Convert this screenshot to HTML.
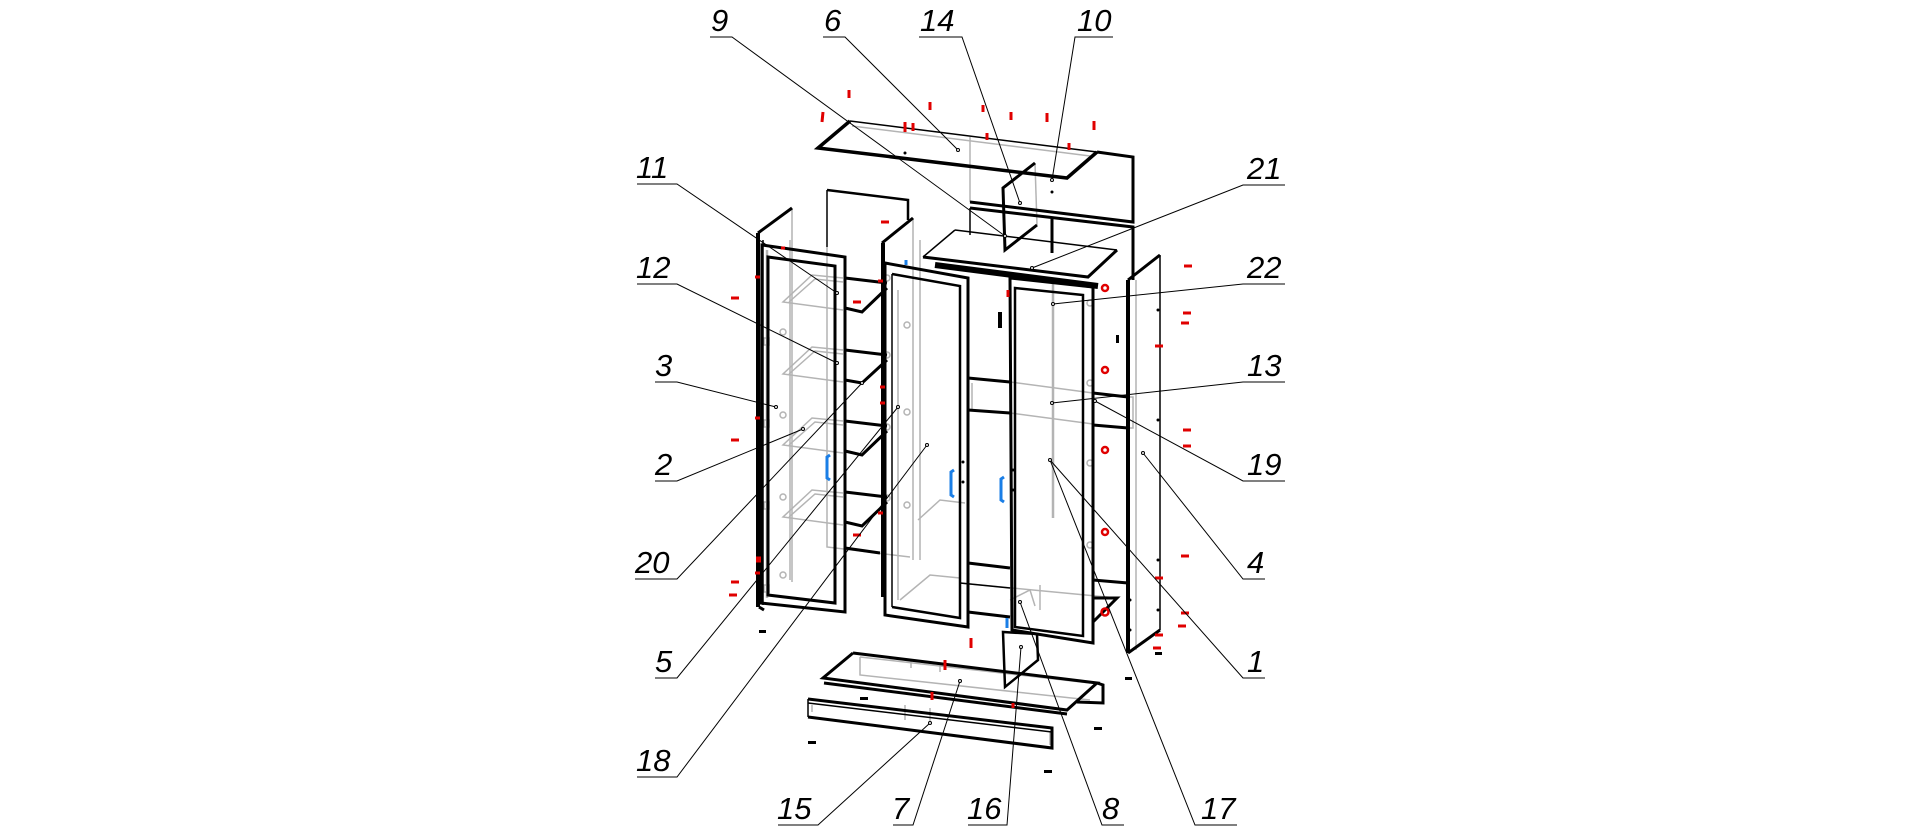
<!DOCTYPE html>
<html><head><meta charset="utf-8"><style>
html,body{margin:0;padding:0;background:#fff;}
body{width:1920px;height:834px;overflow:hidden;position:relative;}
svg{position:absolute;left:0;top:0;}
text{font-family:"Liberation Sans",sans-serif;font-style:italic;font-size:31px;fill:#000;}
</style></head><body>
<svg width="1920" height="834" viewBox="0 0 1920 834" xmlns="http://www.w3.org/2000/svg">
<rect width="1920" height="834" fill="#fff"/>

<!-- ============ GRAY (hidden / inner) LINES ============ -->
<g fill="none" stroke="#b4b4b4" stroke-width="1.5">
  <path d="M852,126 L1090,156"/>
  <path d="M970,137 L970,202"/>
  <path d="M1035,163 L1037,225"/>
  <path d="M792,208 L792,582"/>
  <path d="M767,250 L767,598" stroke-width="2.5"/>
  <path d="M827,247 L827,547 L910,557"/>
  <path d="M790,240 L790,580"/>
  <path d="M843,278 L812,275 L783,302 L843,310"/>
  <path d="M843,282 L815,279 L789,302"/>
  <path d="M843,350 L812,347 L783,374 L843,382"/>
  <path d="M843,354 L815,351 L789,374"/>
  <path d="M843,421 L812,418 L783,445 L843,453"/>
  <path d="M843,425 L815,422 L789,445"/>
  <path d="M843,493 L812,490 L783,517 L843,525"/>
  <path d="M843,497 L815,494 L789,517"/>
  <path d="M913,218 L913,560"/>
  <path d="M920,240 L920,560"/>
  <path d="M898,290 L898,600"/>
  <path d="M918,520 L940,500 L965,503"/>
  <path d="M900,600 L930,575 L960,578"/>
  <path d="M1010,382 L1093,393"/>
  <path d="M1010,413 L1093,424"/>
  <path d="M972,383 L972,410"/>
  <path d="M1128,397 L1133,397 L1133,428 L1128,428"/>
  <path d="M1053,282 L1053,518" stroke-width="2.5"/>
  <path d="M1136,280 L1136,650"/>
  <path d="M960,583 L1117,598"/>
  <path d="M1010,600 L1030,590 L1035,606"/>
  <path d="M1040,585 L1040,610"/>
  <path d="M860,657 L860,675 L1090,700"/>
  <path d="M860,657 L1090,683"/>
  <path d="M905,705 L905,720 M930,708 L930,722 M911,660 L911,668 M940,664 L940,672"/>
  <path d="M812,705 L812,712"/>
  <path d="M1050,732 L1050,745"/>
  <circle cx="1090" cy="303" r="3"/>
  <circle cx="1090" cy="383" r="3"/>
  <circle cx="1090" cy="463" r="3"/>
  <circle cx="1090" cy="545" r="3"/>
  <rect x="764" y="338" width="5" height="7"/>
  <rect x="764" y="420" width="5" height="7"/>
  <rect x="764" y="502" width="5" height="7"/>
  <rect x="764" y="585" width="5" height="7"/>
  <circle cx="783" cy="332" r="3"/>
  <circle cx="783" cy="415" r="3"/>
  <circle cx="783" cy="497" r="3"/>
  <circle cx="783" cy="575" r="3"/>
  <circle cx="907" cy="325" r="3"/>
  <circle cx="907" cy="412" r="3"/>
  <circle cx="907" cy="505" r="3"/>
  <circle cx="887" cy="278" r="3"/>
  <circle cx="887" cy="355" r="3"/>
  <circle cx="887" cy="427" r="3"/>
  <circle cx="887" cy="498" r="3"/>
</g>

<!-- ============ BLACK THIN ============ -->
<g fill="none" stroke="#000" stroke-width="1.5">
  <path d="M850,121 L1097,152"/>
  <path d="M955,230 L1117,250"/>
  <path d="M923,257 L955,230"/>
  <path d="M827,190 L827,247"/>
  <path d="M1160,255 L1160,630"/>
  <path d="M763,240 L763,605"/>
  <path d="M892,274 L892,607"/>
  <path d="M970,208 L970,235"/>
  <path d="M960,583 L1010,588"/>
  <path d="M808,699 L808,717"/>
</g>

<!-- ============ BLACK THICK ============ -->
<g fill="none" stroke="#000" stroke-width="3" stroke-linejoin="miter">
  <path d="M850,121 L818,148 L1067,178 L1097,152" stroke-width="3.5"/>
  <path d="M1097,152 L1133,157 L1133,222 L970,202"/>
  <path d="M1035,163 L1003,188 L1005,250 L1037,225"/>
  <path d="M970,208 L1133,227 L1133,280"/>
  <path d="M1052,217 L1052,253"/>
  <path d="M923,257 L1088,277 L1117,250"/>
  <path d="M935,265 L1098,286" stroke-width="6"/>
  <path d="M827,190 L908,200 L908,220" stroke-width="2.5"/>
  <path d="M758,233 L758,607" stroke-width="4"/>
  <path d="M758,233 L792,208"/>
  <path d="M759,607 L764,610"/>
  <path d="M762,245 L845,257 L845,612 L761,603 Z"/>
  <path d="M768,257 L835,266 L835,603 L768,595 Z"/>
  <path d="M845,278 L887,283"/>
  <path d="M845,308 L862,312 L887,288"/>
  <path d="M845,350 L887,355"/>
  <path d="M845,380 L862,383 L887,360"/>
  <path d="M845,421 L887,426"/>
  <path d="M845,451 L862,455 L887,431"/>
  <path d="M845,492 L887,497"/>
  <path d="M845,522 L862,526 L887,502"/>
  <path d="M845,548 L880,553"/>
  <path d="M883,243 L883,597" stroke-width="4"/>
  <path d="M882,243 L913,218"/>
  <path d="M885,263 L968,278 L968,627 L885,615 Z"/>
  <path d="M892,274 L960,286 L960,618 L892,607" stroke-width="2.5"/>
  <path d="M968,378 L1010,382"/>
  <path d="M968,410 L1010,413"/>
  <path d="M1093,393 L1128,397"/>
  <path d="M1093,425 L1128,428"/>
  <path d="M968,563 L1010,568"/>
  <path d="M968,612 L1010,617"/>
  <path d="M1093,580 L1128,583"/>
  <path d="M1010,278 L1093,287 L1093,643 L1012,630 Z"/>
  <path d="M1015,288 L1083,295 L1083,636 L1015,627 Z" stroke-width="2.5"/>
  <path d="M1093,622 L1117,598 L1093,598"/>
  <path d="M1128,280 L1128,653" stroke-width="4"/>
  <path d="M1128,280 L1160,255"/>
  <path d="M1128,653 L1160,630"/>
  <path d="M853,653 L823,678 L1067,710 L1097,683 L853,653"/>
  <path d="M824,683 L1067,714"/>
  <path d="M1097,683 L1103,685 L1103,703 L1077,702"/>
  <path d="M808,699 L1052,728 L1052,748 L808,717"/>
  <path d="M808,703 L1052,732" stroke-width="1.5"/>
  <path d="M1003,632 L1005,687 L1038,660 L1037,634 Z" stroke-width="2.5"/>
</g>

<g fill="#000" stroke="none">
  <rect x="759" y="630" width="7" height="3"/>
  <rect x="808" y="741" width="8" height="3"/>
  <rect x="860" y="697" width="8" height="3"/>
  <rect x="1125" y="677" width="7" height="3"/>
  <rect x="1094" y="727" width="8" height="3"/>
  <rect x="1044" y="770" width="8" height="3"/>
  <rect x="1155" y="652" width="7" height="3"/>
  <rect x="998" y="312" width="4" height="16"/>
  <rect x="1116" y="335" width="3" height="8"/>
  <circle cx="1158" cy="310" r="1.5"/>
  <circle cx="1158" cy="420" r="1.5"/>
  <circle cx="1158" cy="560" r="1.5"/>
  <circle cx="1158" cy="610" r="1.5"/>
  <circle cx="1130" cy="600" r="1.5"/>
  <circle cx="1130" cy="630" r="1.5"/>
  <circle cx="963" cy="462" r="1.5"/>
  <circle cx="963" cy="482" r="1.5"/>
  <circle cx="1013" cy="470" r="1.5"/>
  <circle cx="1013" cy="490" r="1.5"/>
  <circle cx="905" cy="153" r="1.5"/>
  <circle cx="1052" cy="192" r="1.5"/>
</g>

<g fill="none" stroke="#1a7ee6" stroke-width="3">
  <path d="M830,455 L827,457 L827,478 L830,480"/>
  <path d="M954,470 L951,472 L951,495 L954,497"/>
  <path d="M1004,477 L1001,479 L1001,500 L1004,502"/>
  <path d="M1007,618 L1007,628"/>
  <path d="M906,260 L906,265"/>
</g>

<g fill="none" stroke="#e00000" stroke-width="3">
  <path d="M823,112 L822,122 M849,90 L849,98 M930,102 L930,110 M905,122 L905,132 M983,105 L983,112 M1011,112 L1011,120 M1047,113 L1047,122 M1094,121 L1094,130 M987,133 L987,140 M1069,143 L1069,150 M913,123 L913,131"/>
  <path d="M881,222 L889,222 M1184,266 L1192,266 M731,298 L739,298 M853,302 L861,302 M731,440 L739,440 M853,535 L861,535 M1183,313 L1191,313 M1181,323 L1189,323 M1155,346 L1163,346 M1183,430 L1191,430 M1183,446 L1191,446 M1181,556 L1189,556 M1155,578 L1163,578 M1181,613 L1189,613 M1178,626 L1186,626 M1155,635 L1163,635 M1153,648 L1161,648 M731,582 L739,582 M729,595 L737,595"/>
  <path d="M755,277 L760,277 M878,281 L883,281 M755,418 L760,418 M880,387 L885,387 M880,403 L885,403 M878,513 L883,513 M756,558 L761,558 M755,573 L760,573 M756,561 L761,561 M781,248 L785,248"/>
  <path d="M945,660 L945,670 M932,692 L932,700 M971,638 L971,648 M1013,703 L1013,708 M1008,290 L1008,297"/>
</g>
<g fill="none" stroke="#e00000" stroke-width="2.5">
  <circle cx="1105" cy="288" r="3"/>
  <circle cx="1105" cy="370" r="3"/>
  <circle cx="1105" cy="450" r="3"/>
  <circle cx="1105" cy="532" r="3"/>
  <circle cx="1105" cy="612" r="3.5"/>
</g>

<!-- ============ LEADERS ============ -->
<g fill="none" stroke="#000" stroke-width="1">
  <path d="M710,37 L732,37 L1005,236"/>
  <path d="M823,37 L845,37 L958,150"/>
  <path d="M919,37 L962,37 L1020,203"/>
  <path d="M1113,37 L1075,37 L1052,180"/>
  <path d="M637,184 L677,184 L837,293"/>
  <path d="M637,284 L677,284 L837,363"/>
  <path d="M655,382 L677,382 L776,407"/>
  <path d="M655,481 L677,481 L803,429"/>
  <path d="M635,579 L677,579 L862,383"/>
  <path d="M655,678 L677,678 L898,407"/>
  <path d="M637,777 L677,777 L927,445"/>
  <path d="M1285,185 L1243,185 L1032,268"/>
  <path d="M1285,284 L1243,284 L1053,304"/>
  <path d="M1285,382 L1243,382 L1052,403"/>
  <path d="M1285,481 L1243,481 L1095,401"/>
  <path d="M1265,579 L1243,579 L1143,453"/>
  <path d="M1265,678 L1243,678 L1050,460"/>
  <path d="M778,825 L818,825 L930,723"/>
  <path d="M893,825 L913,825 L960,681"/>
  <path d="M968,825 L1007,825 L1021,647"/>
  <path d="M1124,825 L1102,825 L1020,602"/>
  <path d="M1237,825 L1195,825 L1050,460"/>
</g>
<g fill="#fff" stroke="#000" stroke-width="1">
  <circle cx="1005" cy="236" r="1.5"/><circle cx="958" cy="150" r="1.5"/>
  <circle cx="1020" cy="203" r="1.5"/><circle cx="1052" cy="180" r="1.5"/>
  <circle cx="837" cy="293" r="1.5"/><circle cx="837" cy="363" r="1.5"/>
  <circle cx="776" cy="407" r="1.5"/><circle cx="803" cy="429" r="1.5"/>
  <circle cx="862" cy="383" r="1.5"/><circle cx="898" cy="407" r="1.5"/>
  <circle cx="927" cy="445" r="1.5"/><circle cx="1032" cy="268" r="1.5"/>
  <circle cx="1053" cy="304" r="1.5"/><circle cx="1052" cy="403" r="1.5"/>
  <circle cx="1095" cy="401" r="1.5"/><circle cx="1143" cy="453" r="1.5"/>
  <circle cx="1050" cy="460" r="1.5"/><circle cx="930" cy="723" r="1.5"/>
  <circle cx="960" cy="681" r="1.5"/><circle cx="1021" cy="647" r="1.5"/>
  <circle cx="1020" cy="602" r="1.5"/>
</g>

<!-- ============ LABELS ============ -->
<text x="711" y="31">9</text>
<text x="824" y="31">6</text>
<text x="920" y="31">14</text>
<text x="1077" y="31">10</text>
<text x="636" y="178">11</text>
<text x="636" y="278">12</text>
<text x="655" y="376">3</text>
<text x="655" y="475">2</text>
<text x="635" y="573">20</text>
<text x="655" y="672">5</text>
<text x="636" y="771">18</text>
<text x="1247" y="179">21</text>
<text x="1247" y="278">22</text>
<text x="1247" y="376">13</text>
<text x="1247" y="475">19</text>
<text x="1247" y="573">4</text>
<text x="1247" y="672">1</text>
<text x="777" y="819">15</text>
<text x="892" y="819">7</text>
<text x="967" y="819">16</text>
<text x="1102" y="819">8</text>
<text x="1201" y="819">17</text>
</svg>
</body></html>
